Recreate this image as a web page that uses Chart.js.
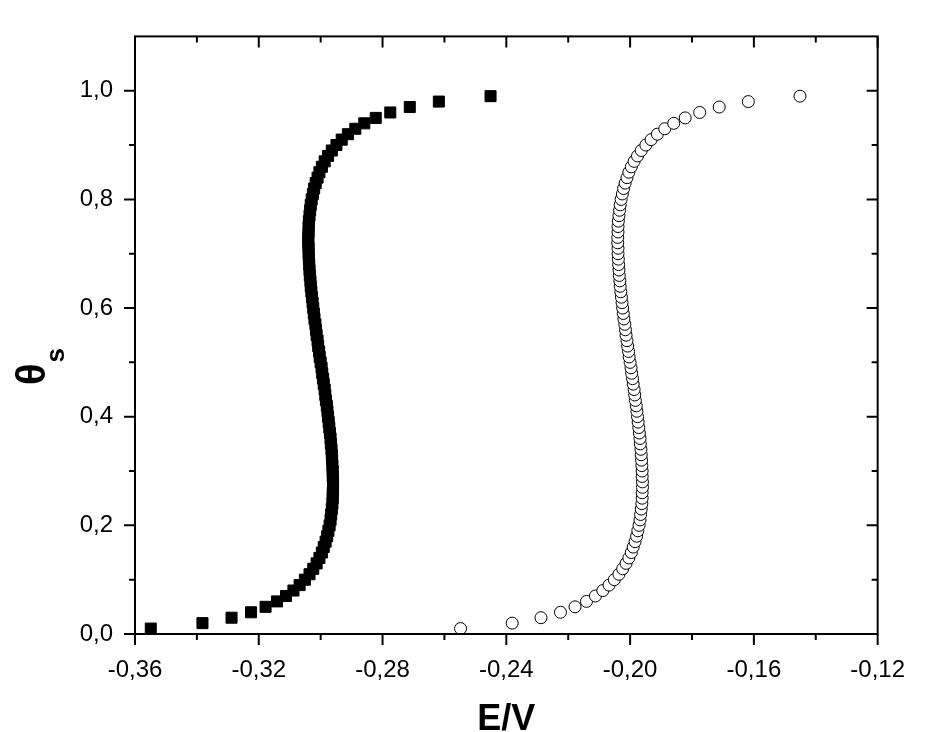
<!DOCTYPE html>
<html><head><meta charset="utf-8">
<script src="https://cdn.jsdelivr.net/npm/chart.js@4"></script>
<style>html,body{margin:0;padding:0;background:#fff}#wrap{width:927px;height:732px}</style>
</head><body><div id="wrap"><canvas id="c" width="927" height="732"></canvas></div>
<script>
const theta = [0.01,0.02,0.03,0.04,0.05,0.06,0.07,0.08,0.09,0.10,
0.11,0.12,0.13,0.14,0.15,0.16,0.17,0.18,0.19,0.20,
0.21,0.22,0.23,0.24,0.25,0.26,0.27,0.28,0.29,0.30,
0.31,0.32,0.33,0.34,0.35,0.36,0.37,0.38,0.39,0.40,
0.41,0.42,0.43,0.44,0.45,0.46,0.47,0.48,0.49,0.50,
0.51,0.52,0.53,0.54,0.55,0.56,0.57,0.58,0.59,0.60,
0.61,0.62,0.63,0.64,0.65,0.66,0.67,0.68,0.69,0.70,
0.71,0.72,0.73,0.74,0.75,0.76,0.77,0.78,0.79,0.80,
0.81,0.82,0.83,0.84,0.85,0.86,0.87,0.88,0.89,0.90,
0.91,0.92,0.93,0.94,0.95,0.96,0.97,0.98,0.99];
const eSquares = [-0.3549,-0.3382,-0.3288,-0.3225,-0.3178,-0.3141,-0.3112,-0.3088,-0.3068,-0.3051,
-0.3036,-0.3024,-0.3013,-0.3004,-0.2996,-0.2990,-0.2984,-0.2979,-0.2975,-0.2971,
-0.2968,-0.2966,-0.2964,-0.2962,-0.2961,-0.2961,-0.2960,-0.2960,-0.2961,-0.2961,
-0.2962,-0.2963,-0.2964,-0.2965,-0.2967,-0.2968,-0.2970,-0.2972,-0.2974,-0.2976,
-0.2978,-0.2980,-0.2983,-0.2985,-0.2987,-0.2990,-0.2992,-0.2995,-0.2997,-0.3000,
-0.3003,-0.3005,-0.3008,-0.3010,-0.3013,-0.3015,-0.3017,-0.3020,-0.3022,-0.3024,
-0.3026,-0.3028,-0.3030,-0.3032,-0.3033,-0.3035,-0.3036,-0.3037,-0.3038,-0.3039,
-0.3039,-0.3040,-0.3040,-0.3039,-0.3039,-0.3038,-0.3036,-0.3034,-0.3032,-0.3029,
-0.3025,-0.3021,-0.3016,-0.3010,-0.3004,-0.2996,-0.2987,-0.2976,-0.2964,-0.2949,
-0.2932,-0.2912,-0.2888,-0.2859,-0.2822,-0.2775,-0.2712,-0.2618,-0.2451];
const eCircles = [-0.2548,-0.2381,-0.2288,-0.2225,-0.2178,-0.2141,-0.2112,-0.2088,-0.2068,-0.2051,
-0.2036,-0.2024,-0.2013,-0.2004,-0.1996,-0.1990,-0.1984,-0.1979,-0.1975,-0.1971,
-0.1968,-0.1966,-0.1964,-0.1962,-0.1961,-0.1961,-0.1960,-0.1960,-0.1961,-0.1961,
-0.1962,-0.1963,-0.1964,-0.1965,-0.1967,-0.1968,-0.1970,-0.1972,-0.1974,-0.1976,
-0.1978,-0.1980,-0.1983,-0.1985,-0.1987,-0.1990,-0.1992,-0.1995,-0.1997,-0.2000,
-0.2003,-0.2005,-0.2008,-0.2010,-0.2013,-0.2015,-0.2017,-0.2020,-0.2022,-0.2024,
-0.2026,-0.2028,-0.2030,-0.2032,-0.2033,-0.2035,-0.2036,-0.2037,-0.2038,-0.2039,
-0.2039,-0.2040,-0.2040,-0.2039,-0.2039,-0.2038,-0.2036,-0.2034,-0.2032,-0.2029,
-0.2025,-0.2021,-0.2016,-0.2010,-0.2004,-0.1996,-0.1987,-0.1976,-0.1964,-0.1949,
-0.1932,-0.1912,-0.1888,-0.1859,-0.1822,-0.1775,-0.1712,-0.1618,-0.1451];
const xTicks = [-0.36,-0.32,-0.28,-0.24,-0.20,-0.16,-0.12];
const xMinorTicks = [-0.34,-0.30,-0.26,-0.22,-0.18,-0.14];
const yTicks = [0.0,0.2,0.4,0.6,0.8,1.0];
const yMinorTicks = [0.1,0.3,0.5,0.7,0.9];
const xTitle = 'E/V';
const yTitle = 'θ';
const yTitleSub = 's';

const FONT = "'Liberation Sans', Arial, sans-serif";

const framePlugin = {
  id: 'frame',
  afterDatasetsDraw(chart) {
    const {ctx, chartArea: a, scales: {x, y}} = chart;
    ctx.save();
    ctx.strokeStyle = '#000';
    ctx.lineWidth = 2;
    ctx.strokeRect(a.left, a.top, a.right - a.left, a.bottom - a.top);
    const MAJ = 11, MIN = 6;
    ctx.beginPath();
    const xt = (v, len) => {
      const p = x.getPixelForValue(v);
      ctx.moveTo(p, a.bottom); ctx.lineTo(p, a.bottom + len);
      ctx.moveTo(p, a.top); ctx.lineTo(p, a.top + len);
    };
    const yt = (v, len) => {
      const p = y.getPixelForValue(v);
      ctx.moveTo(a.left, p); ctx.lineTo(a.left - len, p);
      ctx.moveTo(a.right, p); ctx.lineTo(a.right - len, p);
    };
    xTicks.forEach(v => xt(v, MAJ));
    xMinorTicks.forEach(v => xt(v, MIN));
    yTicks.forEach(v => yt(v, MAJ));
    yMinorTicks.forEach(v => yt(v, MIN));
    ctx.stroke();

    // axis titles
    ctx.fillStyle = '#000';
    ctx.font = 'bold 36px ' + FONT;
    ctx.textAlign = 'center';
    ctx.textBaseline = 'alphabetic';
    ctx.fillText(xTitle, (a.left + a.right) / 2, 730);

    ctx.translate(45, 385);
    ctx.rotate(-Math.PI / 2);
    ctx.textAlign = 'left';
    ctx.font = 'bold 40px ' + FONT;
    ctx.fillText(yTitle, 0, 0);
    const w = ctx.measureText(yTitle).width;
    ctx.font = 'bold 26px ' + FONT;
    ctx.fillText(yTitleSub, w + 1, 19);
    ctx.restore();
  }
};

new Chart(document.getElementById('c'), {
  type: 'scatter',
  data: {
    datasets: [
      {
        label: 'squares',
        data: theta.map((t, i) => ({x: eSquares[i], y: t})),
        pointStyle: 'rect',
        pointRadius: 7.8,
        backgroundColor: '#000',
        borderColor: '#000',
        borderWidth: 1
      },
      {
        label: 'circles',
        data: theta.map((t, i) => ({x: eCircles[i], y: t})),
        pointStyle: 'circle',
        pointRadius: 6,
        backgroundColor: '#fff',
        borderColor: '#000',
        borderWidth: 1
      }
    ]
  },
  options: {
    responsive: false,
    animation: false,
    devicePixelRatio: 1,
    layout: {padding: {top: 15, right: 31, left: 0, bottom: 0}},
    plugins: {legend: {display: false}, tooltip: {enabled: false}},
    scales: {
      x: {
        type: 'linear', min: -0.36, max: -0.12,
        afterBuildTicks: s => { s.ticks = xTicks.map(v => ({value: v})); },
        afterFit: s => { s.height = 98; },
        grid: {display: false, drawTicks: false},
        border: {display: false},
        ticks: {
          padding: 22, color: '#000', font: {family: FONT, size: 24},
          maxRotation: 0, autoSkip: false,
          callback: v => v.toFixed(2).replace('.', ',')
        }
      },
      y: {
        type: 'linear', min: 0, max: 1.1,
        afterBuildTicks: s => { s.ticks = yTicks.map(v => ({value: v})); },
        afterFit: s => { s.width = 135; },
        grid: {display: false, drawTicks: false},
        border: {display: false},
        ticks: {
          padding: 22, color: '#000', font: {family: FONT, size: 24},
          autoSkip: false,
          callback: v => v.toFixed(1).replace('.', ',')
        }
      }
    }
  },
  plugins: [framePlugin]
});
</script>
</body></html>
